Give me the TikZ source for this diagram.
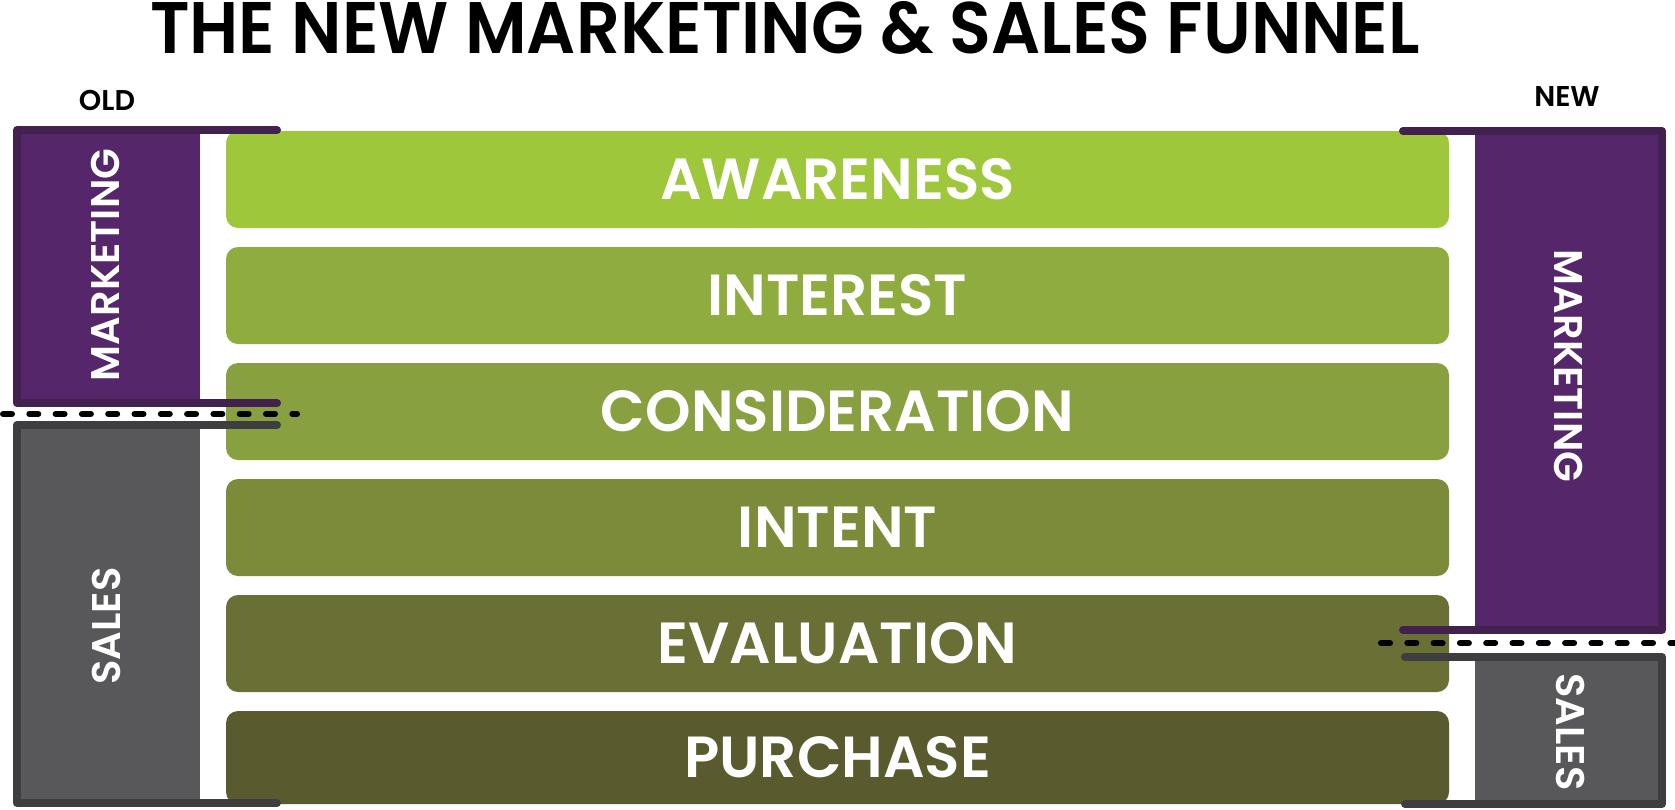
\documentclass[tikz,border=0pt]{standalone}
\usepackage{fontspec}
\setmainfont{Poppins}[BoldFont={Poppins SemiBold}]
\definecolor{aw}{HTML}{9EC73C}
\definecolor{inr}{HTML}{8FAD3F}
\definecolor{con}{HTML}{88A03F}
\definecolor{inte}{HTML}{7B8B3A}
\definecolor{eva}{HTML}{6A6F35}
\definecolor{pur}{HTML}{5A5A2F}
\definecolor{pfill}{HTML}{55266A}
\definecolor{pline}{HTML}{43214F}
\definecolor{gfill}{HTML}{58585A}
\definecolor{gline}{HTML}{3E3E40}
\tikzset{
  bar/.style={rounded corners=12pt, minimum width=1223pt, minimum height=97pt, inner sep=0pt, text=white,
    font=\fontsize{58}{60}\selectfont\bfseries},
  sidelab/.style={inner sep=0pt, text=white, font=\fontsize{40}{42}\selectfont\bfseries},
  toplab/.style={inner sep=0pt, text=black, font=\fontsize{28.6}{30}\selectfont\bfseries},
  titlelab/.style={inner sep=0pt, text=black, font=\fontsize{73}{75}\selectfont\bfseries},
  bracket/.style={line width=8pt, line cap=round, line join=round},
  dashline/.style={line width=6pt, line cap=round, dash pattern=on 9pt off 17.3pt, black}
}
\begin{document}
\begin{tikzpicture}[x=1pt,y=-1pt]
\useasboundingbox[fill=white] (0,0) rectangle (1675,809);
% bracket fills
\fill[pfill] (17,130) rectangle (200,403);
\fill[gfill] (17,425) rectangle (200,803);
\fill[pfill] (1475,131) rectangle (1662,630);
\fill[gfill] (1475,657) rectangle (1662,804);
% bars
\node[bar, fill=aw]   (awareness) at (837.5,179.5) {AWARENESS};
\node[bar, fill=inr]  (interest)  at (837.5,295.5) {INTEREST};
\node[bar, fill=con]  (consid)    at (837.5,411.5) {CONSIDERATION};
\node[bar, fill=inte] (intent)    at (837.5,527.5) {INTENT};
\node[bar, fill=eva]  (evaluation) at (837.5,643.5) {EVALUATION};
\node[bar, fill=pur, minimum height=93pt] (purchase) at (837.5,757.5) {PURCHASE};
% bracket outlines
\draw[pline, bracket] (277,130) -- (17,130) -- (17,403) -- (277,403);
\draw[gline, bracket] (277,425) -- (17,425) -- (17,803) -- (277,803);
\draw[pline, bracket] (1403,131) -- (1662,131) -- (1662,630) -- (1403,630);
\draw[gline, bracket] (1405,657) -- (1662,657) -- (1662,804) -- (1405,804);
% dashed separators
\draw[dashline] (3,414) -- (297,414);
\draw[dashline] (1381,643) -- (1675,643);
% side labels
\node[sidelab, rotate=90]  (oldmkt)   at (105,265) {MARKETING};
\node[sidelab, rotate=90]  (oldsales) at (106,626) {SALES};
\node[sidelab, rotate=-90] (newmkt)   at (1568,366) {MARKETING};
\node[sidelab, rotate=-90] (newsales) at (1570,732) {SALES};
% top labels
\node[toplab] (old) at (107,100) {OLD};
\node[toplab] (new) at (1567,97) {NEW};
% title
\node[titlelab] (title) at (785,27.5) {\scalebox{0.94}[1]{THE NEW MARKETING \& SALES FUNNEL}};
\end{tikzpicture}
\end{document}
